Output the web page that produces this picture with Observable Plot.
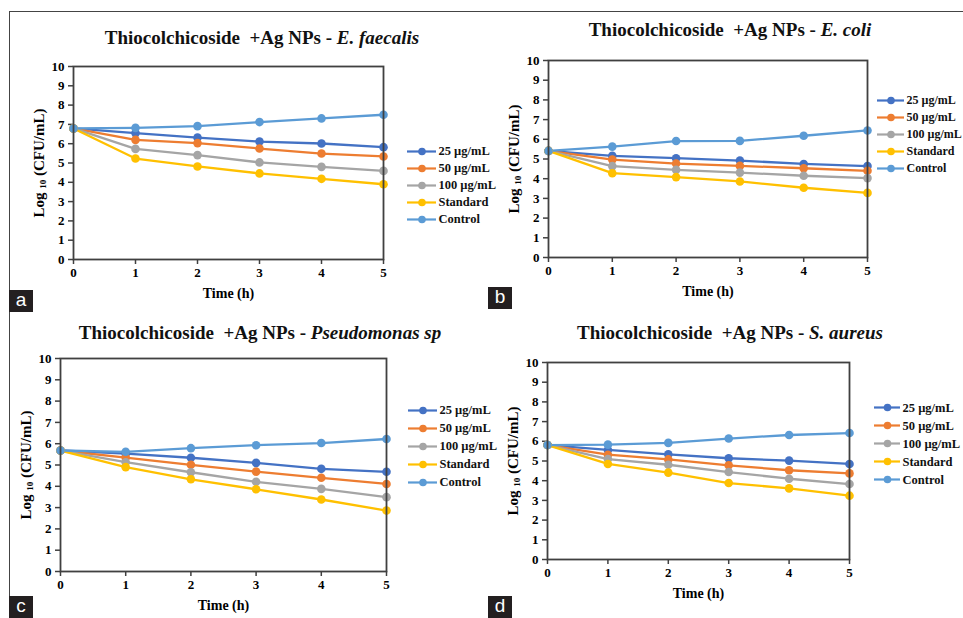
<!DOCTYPE html>
<html>
<head>
<meta charset="utf-8">
<script src="https://cdn.jsdelivr.net/npm/d3@7"></script>
<script src="https://cdn.jsdelivr.net/npm/@observablehq/plot@0.6"></script>
<style>
  html, body { margin: 0; padding: 0; background: #fff; }
  #fig { position: relative; width: 963px; height: 618px; overflow: hidden; background: #fff;
         font-family: "Liberation Serif", "Times New Roman", serif; }
  .abs { position: absolute; }
  .title { position: absolute; transform: translate(-50%, -50%); white-space: pre; font-weight: bold;
           font-size: 19px; color: #111; font-family: "Liberation Serif", "Times New Roman", serif; }
  .tag { position: absolute; width: 24px; height: 22px; background: #231f20; color: #fff;
         font-family: "Liberation Sans", Arial, sans-serif; font-size: 19px; line-height: 20px; text-align: center; }
</style>
</head>
<body>
<div id="fig"></div>
<script>
(function () {
// ---------- data ----------
const times = [0, 1, 2, 3, 4, 5];
const seriesNames = ["25 µg/mL", "50 µg/mL", "100 µg/mL", "Standard", "Control"];
const seriesColors = ["#4472C4", "#ED7D31", "#A5A5A5", "#FFC000", "#5B9BD5"];
const yTicks = [0, 1, 2, 3, 4, 5, 6, 7, 8, 9, 10];

// (a) E. faecalis
const faecalis25  = [6.79, 6.55, 6.32, 6.11, 6.01, 5.82];
const faecalis50  = [6.79, 6.20, 6.03, 5.75, 5.49, 5.34];
const faecalis100 = [6.79, 5.73, 5.41, 5.03, 4.80, 4.59];
const faecalisStd = [6.79, 5.23, 4.82, 4.46, 4.18, 3.90];
const faecalisCtl = [6.79, 6.82, 6.91, 7.12, 7.31, 7.50];

// (b) E. coli
const coli25  = [5.41, 5.16, 5.04, 4.92, 4.75, 4.64];
const coli50  = [5.41, 4.97, 4.77, 4.65, 4.53, 4.40];
const coli100 = [5.41, 4.64, 4.45, 4.31, 4.15, 4.03];
const coliStd = [5.41, 4.28, 4.08, 3.86, 3.54, 3.28];
const coliCtl = [5.41, 5.63, 5.91, 5.92, 6.18, 6.45];

// (c) Pseudomonas sp
const pseudo25  = [5.68, 5.53, 5.34, 5.10, 4.82, 4.68];
const pseudo50  = [5.68, 5.35, 5.01, 4.69, 4.40, 4.11];
const pseudo100 = [5.68, 5.13, 4.66, 4.21, 3.88, 3.49];
const pseudoStd = [5.68, 4.90, 4.33, 3.86, 3.38, 2.86];
const pseudoCtl = [5.68, 5.62, 5.79, 5.93, 6.03, 6.22];

// (d) S. aureus
const aureus25  = [5.81, 5.56, 5.34, 5.14, 5.02, 4.85];
const aureus50  = [5.81, 5.32, 5.08, 4.78, 4.53, 4.37];
const aureus100 = [5.81, 5.10, 4.81, 4.44, 4.10, 3.83];
const aureusStd = [5.81, 4.85, 4.41, 3.88, 3.61, 3.24];
const aureusCtl = [5.81, 5.83, 5.92, 6.14, 6.32, 6.42];

const titlePrefix = "Thiocolchicoside  +Ag NPs - ";
const organisms = ["E. faecalis", "E. coli", "Pseudomonas sp", "S. aureus"];
const panelTags = ["a", "b", "c", "d"];
const panelSeries = [
  [faecalis25, faecalis50, faecalis100, faecalisStd, faecalisCtl],
  [coli25, coli50, coli100, coliStd, coliCtl],
  [pseudo25, pseudo50, pseudo100, pseudoStd, pseudoCtl],
  [aureus25, aureus50, aureus100, aureusStd, aureusCtl]
];

// ---------- layout (page pixels) ----------
const layout = [
  {fx0: 73,  fx1: 383, fy0: 66,  fy1: 259, tx: 262, ty: 38,  lx: 406, ly: 140, lstep: 22.3, lline: 29, lfs: 12.5, gx: 9,   gy: 290},
  {fx0: 548, fx1: 867, fy0: 60,  fy1: 257, tx: 730, ty: 30,  lx: 876, ly: 90,  lstep: 22.0, lline: 27, lfs: 12,   gx: 488, gy: 287},
  {fx0: 60,  fx1: 386, fy0: 358, fy1: 571, tx: 260, ty: 333, lx: 407, ly: 400, lstep: 22.8, lline: 29, lfs: 12.5, gx: 9,   gy: 596},
  {fx0: 547, fx1: 849, fy0: 362, fy1: 559, tx: 730, ty: 333, lx: 873, ly: 398, lstep: 22.5, lline: 26, lfs: 12.5, gx: 488, gy: 596}
];

const fig = document.getElementById("fig");
const serif = "'Liberation Serif', 'Times New Roman', serif";

// outer figure frame lines
const topLine = document.createElement("div");
topLine.className = "abs";
Object.assign(topLine.style, {left: "9px", top: "11px", width: "960px", height: "1px", background: "#444"});
fig.appendChild(topLine);
const leftLine = document.createElement("div");
leftLine.className = "abs";
Object.assign(leftLine.style, {left: "9px", top: "11px", width: "1px", height: "610px", background: "#444"});
fig.appendChild(leftLine);

const mL = 58, mR = 12, mT = 10, mB = 44;

layout.forEach((L, i) => {
  const rows = [];
  seriesNames.forEach((s, k) => {
    times.forEach((t, j) => rows.push({series: s, t, v: panelSeries[i][k][j]}));
  });

  const W = (L.fx1 - L.fx0) + mL + mR;
  const H = (L.fy1 - L.fy0) + mT + mB;

  const chart = Plot.plot({
    width: W,
    height: H,
    marginLeft: mL, marginRight: mR, marginTop: mT, marginBottom: mB,
    style: {fontFamily: serif, fontWeight: "bold", fontSize: "13px", color: "#000", background: "transparent", overflow: "visible"},
    x: {domain: [0, 5]},
    y: {domain: [0, 10]},
    color: {domain: seriesNames, range: seriesColors},
    marks: [
      Plot.axisX({ticks: times, tickFormat: d => String(d), tickSize: 5, tickPadding: 3,
                  stroke: "#404040", strokeWidth: 1.5, label: "Time (h)", labelAnchor: "center",
                  labelOffset: 38, labelArrow: "none", fontSize: 13}),
      Plot.axisY({ticks: yTicks, tickFormat: d => String(d), tickSize: 5, tickPadding: 4,
                  stroke: "#404040", strokeWidth: 1.5, label: "Log 10 (CFU/mL)", labelAnchor: "center",
                  labelOffset: 40, labelArrow: "none", fontSize: 13}),
      Plot.line(rows, {x: "t", y: "v", z: "series", stroke: "series", strokeWidth: 2.3}),
      Plot.dot(rows, {x: "t", y: "v", fill: "series", r: 4.3}),
      Plot.frame({stroke: "#404040", strokeWidth: 1.8})
    ]
  });
  chart.style.position = "absolute";
  chart.style.left = (L.fx0 - mL) + "px";
  chart.style.top = (L.fy0 - mT) + "px";
  fig.appendChild(chart);

  // label tweaks: subscript "10" in y label, larger axis titles
  chart.querySelectorAll("text").forEach(t => {
    if (t.textContent === "Log 10 (CFU/mL)") {
      const tgt = t.querySelector("tspan") || t;
      tgt.textContent = "";
      const ns = "http://www.w3.org/2000/svg";
      const a = document.createElementNS(ns, "tspan"); a.textContent = "Log ";
      const b = document.createElementNS(ns, "tspan"); b.textContent = "10"; b.setAttribute("font-size", "9"); b.setAttribute("dy", "2");
      const c = document.createElementNS(ns, "tspan"); c.textContent = " (CFU/mL)"; c.setAttribute("dy", "-2");
      tgt.appendChild(a); tgt.appendChild(b); tgt.appendChild(c);
      t.setAttribute("font-size", "15");
    } else if (t.textContent === "Time (h)") {
      t.setAttribute("font-size", "14");
    }
  });

  // legend
  const legH = 4 * L.lstep + 16;
  const legend = Plot.plot({
    width: 110,
    height: legH,
    margin: 0,
    style: {fontFamily: serif, fontWeight: "bold", fontSize: L.lfs + "px", color: "#000", background: "transparent", overflow: "visible"},
    x: {domain: [0, 1], range: [1, 1 + L.lline], axis: null},
    y: {type: "point", domain: seriesNames, range: [8, 8 + 4 * L.lstep], axis: null},
    color: {domain: seriesNames, range: seriesColors},
    marks: [
      Plot.ruleY(seriesNames, {y: d => d, x1: () => 0, x2: () => 1, stroke: d => d, strokeWidth: 2.2}),
      Plot.dot(seriesNames, {x: () => 0.5, y: d => d, fill: d => d, r: 3.8}),
      Plot.text(seriesNames, {x: () => 1, y: d => d, text: d => d, textAnchor: "start", dx: 2, fill: "#111"})
    ]
  });
  legend.style.position = "absolute";
  legend.style.left = L.lx + "px";
  legend.style.top = (L.ly - 8) + "px";
  fig.appendChild(legend);

  // title
  const title = document.createElement("div");
  title.className = "title";
  title.style.left = L.tx + "px";
  title.style.top = L.ty + "px";
  title.textContent = titlePrefix;
  const em = document.createElement("i");
  em.textContent = organisms[i];
  title.appendChild(em);
  fig.appendChild(title);

  // panel tag
  const tag = document.createElement("div");
  tag.className = "tag";
  tag.style.left = L.gx + "px";
  tag.style.top = L.gy + "px";
  tag.textContent = panelTags[i];
  fig.appendChild(tag);
});
})();
</script>
</body>
</html>
